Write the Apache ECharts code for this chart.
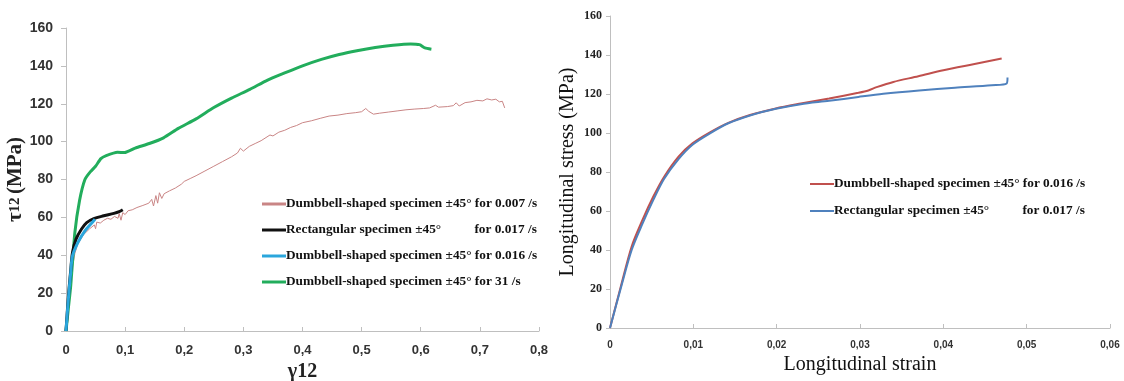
<!DOCTYPE html>
<html><head><meta charset="utf-8">
<script src="https://cdn.jsdelivr.net/npm/echarts@6/dist/echarts.min.js"></script>
<style>html,body{margin:0;padding:0;background:#fff}#c{width:1124px;height:381px}</style>
</head><body><div id="c"></div>
<script>
// Left chart: shear stress tau12 (MPa) vs shear strain gamma12
const leftNames = [
  'Dumbbell-shaped specimen ±45° for 0.007 /s',
  'Rectangular specimen ±45°          for 0.017 /s',
  'Dumbbell-shaped specimen ±45° for 0.016 /s',
  'Dumbbell-shaped specimen ±45° for 31 /s'
];
const pink007 = [[0,0],[0.005,18],[0.01,32],[0.015,41],[0.02,46],[0.03,51],[0.04,54],[0.048,56],[0.05,54],[0.052,57.5],[0.058,57],[0.064,58.5],[0.07,59.5],[0.076,59],[0.082,60.5],[0.088,59.5],[0.09,62],[0.093,58.5],[0.096,62.5],[0.1,61.5],[0.105,63.5],[0.112,64],[0.12,65.2],[0.13,66.3],[0.14,67.5],[0.145,69.5],[0.148,66],[0.152,71.5],[0.155,67.5],[0.158,73],[0.162,70],[0.166,72.5],[0.175,74],[0.185,75.5],[0.195,77.5],[0.2,79],[0.21,80.5],[0.22,82],[0.235,84.5],[0.25,87],[0.265,89.5],[0.28,92],[0.29,94],[0.295,96.5],[0.3,95],[0.31,97.5],[0.32,99],[0.33,100.5],[0.34,102.5],[0.345,103.5],[0.35,103],[0.36,105],[0.37,106],[0.38,107.5],[0.39,108.5],[0.4,110],[0.415,111],[0.43,112.3],[0.445,113.5],[0.46,114],[0.475,114.8],[0.49,115.3],[0.5,115.8],[0.507,117.5],[0.512,116],[0.52,114.5],[0.53,115],[0.545,115.6],[0.56,116.2],[0.575,116.8],[0.59,117.2],[0.605,117.5],[0.615,117.8],[0.625,119.2],[0.63,118.2],[0.645,118.5],[0.655,119],[0.66,120.5],[0.665,118.8],[0.675,120.6],[0.685,121],[0.695,121.8],[0.705,121.5],[0.712,122.6],[0.72,122],[0.727,122.4],[0.733,121],[0.738,121.3],[0.742,117.8]];
const black017 = [[0,0],[0.004,18],[0.008,32],[0.011,41.5],[0.017,48.5],[0.026,53.7],[0.035,57.2],[0.047,59.3],[0.062,60.7],[0.081,62.1],[0.09,63],[0.096,64]];
const cyan016 = [[0,0],[0.004,17],[0.008,31],[0.011,39.7],[0.02,46.7],[0.032,52.9],[0.044,57.2],[0.049,59]];
const green31 = [[0,0],[0.004,12],[0.008,24],[0.015,52],[0.023,69],[0.032,80],[0.041,84],[0.05,87],[0.059,91],[0.068,92.6],[0.087,94.4],[0.099,94.2],[0.117,96.6],[0.141,99],[0.165,102],[0.19,107],[0.22,112],[0.25,118],[0.28,123],[0.311,127.6],[0.341,132.5],[0.371,136.4],[0.4,140],[0.432,143.4],[0.462,146],[0.492,148],[0.523,149.7],[0.553,150.9],[0.583,151.6],[0.598,151.2],[0.607,149.5],[0.618,148.8]];

// Right chart: longitudinal stress vs longitudinal strain
const rightNames = [
  'Dumbbell-shaped specimen ±45° for 0.016 /s',
  'Rectangular specimen ±45°          for 0.017 /s'
];
const redDumb = [[0,0],[0.0013,21.3],[0.0026,41.8],[0.0039,55.4],[0.0052,67.4],[0.0065,77.6],[0.0082,87.8],[0.0099,94.7],[0.0121,100.6],[0.0142,105.2],[0.0168,109.2],[0.0199,112.6],[0.0229,115.1],[0.0263,117.7],[0.0298,120.6],[0.031,121.8],[0.032,123.5],[0.034,126.2],[0.037,129.1],[0.04,132.2],[0.0436,135.3],[0.047,138.2]];
const blueRect = [[0,0],[0.0013,20.5],[0.0026,40],[0.0039,53.5],[0.0052,65.7],[0.0065,76.5],[0.0082,86.5],[0.0099,94],[0.0121,100.1],[0.0142,105],[0.0168,109],[0.0199,112.4],[0.0229,114.8],[0.0263,116.5],[0.0298,118.5],[0.0328,120.1],[0.0371,121.8],[0.0414,123.2],[0.0458,124.5],[0.0476,125.4],[0.0477,128.4]];

const chart = echarts.init(document.getElementById('c'), null, {renderer:'canvas'});
const serif = '"Liberation Serif","Times New Roman",serif';
const sans = '"Liberation Sans",Arial,sans-serif';
const axisLine = {show:true, lineStyle:{color:'#bfbfbf', width:1}};
const comma = v => String(+v.toFixed(3)).replace('.', ',');
const legendText = {fontFamily:serif, fontWeight:'bold', fontSize:13.3, color:'#111', lineHeight:14, padding:[0,0,0,-5]};

chart.setOption({
  animation:false,
  backgroundColor:'#fff',
  grid:[
    {left:66, top:28, width:473, height:303, containLabel:false, outerBoundsMode:'none'},
    {left:610, top:16, width:500, height:312, containLabel:false, outerBoundsMode:'none'}
  ],
  legend:[
    {orient:'vertical', left:257, top:192, itemWidth:24, itemHeight:3, itemGap:12, icon:'rect',
     data:leftNames.map(n=>({name:n})), textStyle:legendText},
    {orient:'vertical', left:805, top:172, itemWidth:24, itemHeight:2, itemGap:13, icon:'rect',
     data:rightNames.map(n=>({name:'R'+n})), formatter: n => n.slice(1), textStyle:legendText}
  ],
  xAxis:[
    {type:'value', gridIndex:0, min:0, max:0.8, interval:0.1, splitLine:{show:false}, axisLine,
     axisTick:{show:true, inside:true, length:4, lineStyle:{color:'#bfbfbf'}},
     axisLabel:{fontFamily:sans, fontWeight:'bold', fontSize:13, color:'#333', margin:13, formatter:comma},
     name:'γ12', nameLocation:'middle', nameGap:26,
     nameTextStyle:{fontFamily:serif, fontWeight:'bold', fontSize:20, color:'#222'}},
    {type:'value', gridIndex:1, min:0, max:0.06, interval:0.01, splitLine:{show:false}, axisLine,
     axisTick:{show:true, inside:true, length:4, lineStyle:{color:'#bfbfbf'}},
     axisLabel:{fontFamily:sans, fontWeight:'bold', fontSize:10, color:'#333', margin:12, formatter:comma},
     name:'Longitudinal strain', nameLocation:'middle', nameGap:26,
     nameTextStyle:{fontFamily:serif, fontSize:20, color:'#111'}}
  ],
  yAxis:[
    {type:'value', gridIndex:0, min:0, max:160, interval:20, splitLine:{show:false}, axisLine,
     axisTick:{show:true, length:5, lineStyle:{color:'#bfbfbf'}},
     axisLabel:{fontFamily:sans, fontWeight:'bold', fontSize:14, color:'#333', margin:13},
     name:'{t|τ}{s|12} {t|(MPa)}', nameLocation:'middle', nameGap:30,
     nameTextStyle:{rich:{t:{fontFamily:serif, fontWeight:'bold', fontSize:21, color:'#222'}, s:{fontFamily:serif, fontWeight:'bold', fontSize:15, color:'#222'}}}},
    {type:'value', gridIndex:1, min:0, max:160, interval:20, splitLine:{show:false}, axisLine,
     axisTick:{show:true, length:4, lineStyle:{color:'#bfbfbf'}},
     axisLabel:{fontFamily:serif, fontWeight:'bold', fontSize:12, color:'#222', margin:8},
     name:'Longitudinal stress (MPa)', nameLocation:'middle', nameGap:32,
     nameTextStyle:{fontFamily:serif, fontSize:20, color:'#111'}}
  ],
  series:[
    {name:leftNames[0], type:'line', xAxisIndex:0, yAxisIndex:0, data:pink007, showSymbol:false, lineStyle:{color:'#c98585', width:1}, itemStyle:{color:'#c98585'}, z:2},
    {name:leftNames[3], type:'line', xAxisIndex:0, yAxisIndex:0, data:green31, showSymbol:false, smooth:0.2, lineStyle:{color:'#22ad5c', width:3}, itemStyle:{color:'#22ad5c'}, z:3},
    {name:leftNames[1], type:'line', xAxisIndex:0, yAxisIndex:0, data:black017, showSymbol:false, smooth:0.3, lineStyle:{color:'#111', width:3}, itemStyle:{color:'#111'}, z:4},
    {name:leftNames[2], type:'line', xAxisIndex:0, yAxisIndex:0, data:cyan016, showSymbol:false, smooth:0.3, lineStyle:{color:'#2aa6dc', width:3}, itemStyle:{color:'#2aa6dc'}, z:5},
    {name:'R'+rightNames[0], type:'line', xAxisIndex:1, yAxisIndex:1, data:redDumb, showSymbol:false, smooth:0.3, lineStyle:{color:'#c0504d', width:2}, itemStyle:{color:'#c0504d'}, z:3},
    {name:'R'+rightNames[1], type:'line', xAxisIndex:1, yAxisIndex:1, data:blueRect, showSymbol:false, smooth:0.3, lineStyle:{color:'#4f81bd', width:2}, itemStyle:{color:'#4f81bd'}, z:4}
  ]
});
</script></body></html>
